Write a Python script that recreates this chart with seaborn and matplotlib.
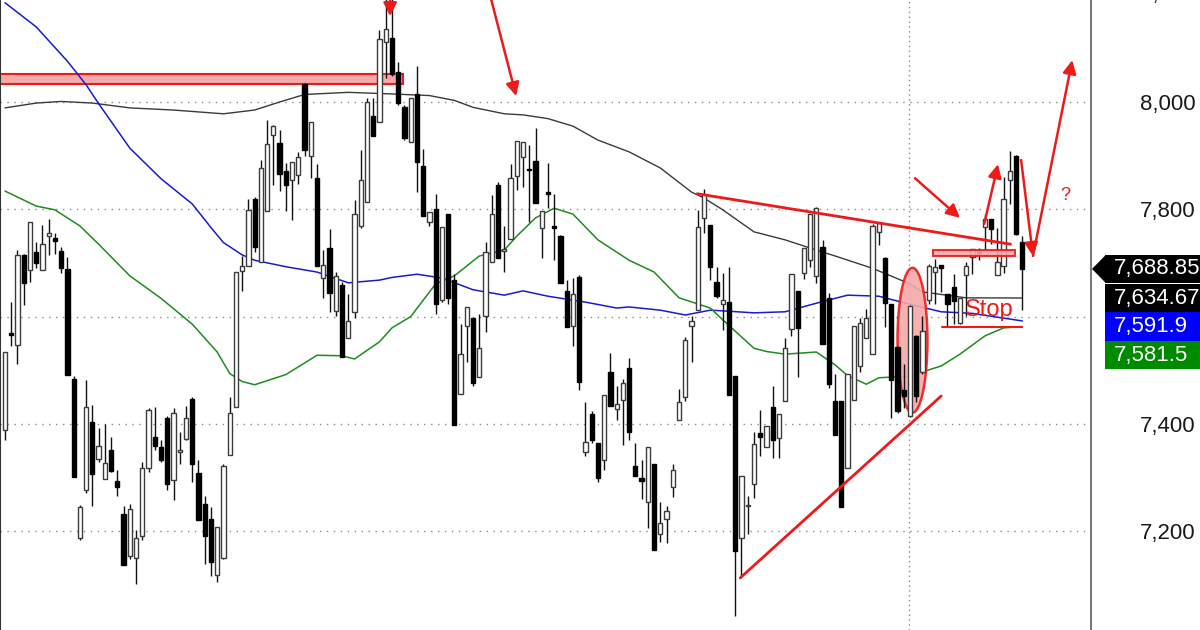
import numpy as np
import matplotlib
matplotlib.use("Agg")
import matplotlib.pyplot as plt
import seaborn as sns
from matplotlib.patches import Ellipse, Rectangle, Polygon
from matplotlib.ticker import FuncFormatter

# ---------------- data ----------------
opens = [7389, 7570, 7547, 7714, 7687, 7720, 7687, 7750, 7746, 7722,
         7689, 7483, 7187, 7277, 7404, 7334, 7298, 7351, 7293, 7232,
         7154, 7150, 7191, 7318, 7375, 7357, 7411, 7296, 7348, 7372,
         7447, 7308, 7251, 7222, 7119, 7150, 7342, 7431, 7685, 7694,
         7819, 7702, 7796, 7938, 7924, 7872, 7855, 7864, 8034, 7899,
         7858, 7672, 7728, 7610, 7659, 7560, 7609, 7769, 7814, 7974,
         7963, 8112, 8119, 8056, 7990, 7925, 8015, 7881, 7776, 7801,
         7631, 7791, 7668, 7456, 7582, 7597, 7488, 7601, 7702, 7846,
         7722, 7744, 7862, 7898, 7876, 7890, 7765, 7832, 7769, 7750,
         7647, 7582, 7673, 7348, 7418, 7364, 7333, 7497, 7428, 7445,
         7504, 7322, 7299, 7254, 7325, 7195, 7223, 7282, 7407, 7450,
         7582, 7612, 7784, 7771, 7664, 7623, 7627, 7489, 7188, 7247,
         7288, 7383, 7357, 7432, 7374, 7442, 7576, 7647, 7682, 7705,
         7676, 7729, 7635, 7442, 7442, 7318, 7445, 7508, 7560, 7530,
         7758, 7709, 7623, 7543, 7463, 7415, 7564, 7497, 7631, 7683,
         7697, 7642, 7655, 7588, 7677, 7711, 7723, 7767, 7782, 7677,
         7694, 7855, 7899, 7739]
highs = [7534, 7627, 7724, 7717, 7776, 7739, 7770, 7782, 7756, 7729,
         7711, 7489, 7249, 7482, 7436, 7392, 7400, 7375, 7314, 7247,
         7250, 7202, 7329, 7430, 7431, 7370, 7415, 7430, 7385, 7433,
         7450, 7333, 7266, 7245, 7207, 7325, 7450, 7683, 7713, 7819,
         7822, 7892, 7966, 7957, 7948, 7886, 7888, 7907, 8036, 7963,
         7884, 7724, 7764, 7683, 7665, 7642, 7817, 7911, 8007, 8007,
         8134, 8195, 8195, 8075, 7995, 8007, 8067, 7913, 7795, 7829,
         7767, 7791, 7679, 7586, 7618, 7597, 7605, 7739, 7826, 7851,
         7769, 7884, 7928, 7925, 7920, 7951, 7797, 7886, 7828, 7752,
         7668, 7672, 7677, 7441, 7425, 7364, 7454, 7532, 7471, 7483,
         7523, 7364, 7333, 7357, 7325, 7254, 7247, 7325, 7465, 7562,
         7601, 7799, 7838, 7771, 7692, 7682, 7692, 7489, 7303, 7266,
         7385, 7426, 7396, 7471, 7418, 7560, 7679, 7647, 7728, 7791,
         7804, 7743, 7644, 7493, 7442, 7493, 7582, 7597, 7615, 7772,
         7774, 7711, 7623, 7545, 7512, 7622, 7566, 7601, 7698, 7707,
         7697, 7642, 7679, 7635, 7702, 7726, 7728, 7791, 7782, 7765,
         7861, 7908, 7901, 7750]
lows = [7370, 7545, 7512, 7622, 7665, 7691, 7687, 7714, 7716, 7681,
        7491, 7301, 7184, 7272, 7247, 7329, 7298, 7310, 7266, 7137,
        7148, 7102, 7184, 7310, 7351, 7329, 7277, 7258, 7325, 7370,
        7292, 7221, 7139, 7116, 7105, 7148, 7342, 7431, 7647, 7694,
        7720, 7702, 7796, 7846, 7834, 7796, 7780, 7847, 7899, 7858,
        7694, 7635, 7609, 7601, 7525, 7560, 7597, 7765, 7814, 7937,
        7963, 8045, 8048, 7995, 7930, 7925, 7832, 7788, 7769, 7605,
        7627, 7623, 7398, 7456, 7515, 7471, 7488, 7571, 7702, 7709,
        7683, 7744, 7836, 7842, 7776, 7811, 7709, 7802, 7706, 7663,
        7580, 7545, 7463, 7340, 7365, 7292, 7314, 7433, 7407, 7361,
        7370, 7303, 7260, 7206, 7165, 7180, 7178, 7263, 7407, 7442,
        7515, 7612, 7756, 7668, 7635, 7575, 7453, 7042, 7115, 7195,
        7262, 7340, 7357, 7336, 7336, 7442, 7564, 7488, 7670, 7692,
        7663, 7549, 7467, 7380, 7245, 7318, 7445, 7497, 7560, 7530,
        7734, 7580, 7411, 7420, 7430, 7413, 7440, 7493, 7623, 7623,
        7646, 7582, 7586, 7586, 7601, 7679, 7705, 7722, 7735, 7677,
        7682, 7810, 7752, 7612]
closes = [7534, 7566, 7714, 7663, 7776, 7700, 7735, 7756, 7740, 7691,
          7491, 7301, 7245, 7432, 7307, 7359, 7327, 7312, 7282, 7137,
          7242, 7187, 7318, 7426, 7359, 7333, 7288, 7420, 7351, 7411,
          7325, 7221, 7191, 7143, 7207, 7321, 7420, 7683, 7694, 7799,
          7729, 7877, 7922, 7955, 7866, 7845, 7888, 7897, 7911, 7963,
          7694, 7697, 7644, 7676, 7525, 7591, 7791, 7855, 8000, 7937,
          8118, 8136, 8052, 7998, 7933, 8007, 7888, 7788, 7795, 7623,
          7767, 7635, 7398, 7530, 7618, 7476, 7541, 7720, 7791, 7709,
          7726, 7858, 7928, 7925, 7874, 7811, 7797, 7829, 7765, 7663,
          7580, 7642, 7478, 7366, 7370, 7299, 7454, 7433, 7437, 7476,
          7385, 7303, 7293, 7357, 7165, 7215, 7237, 7314, 7441, 7556,
          7592, 7767, 7829, 7692, 7638, 7631, 7453, 7163, 7303, 7249,
          7362, 7376, 7396, 7370, 7418, 7541, 7679, 7579, 7728, 7791,
          7802, 7549, 7474, 7380, 7245, 7493, 7582, 7588, 7597, 7769,
          7774, 7625, 7482, 7424, 7452, 7620, 7452, 7573, 7694, 7692,
          7691, 7623, 7629, 7635, 7694, 7726, 7719, 7782, 7763, 7702,
          7819, 7871, 7754, 7688.85]

# moving averages, read at selected candle positions
ma_black_idx = [0, 5, 9, 14, 20, 27, 35, 40, 44, 48, 55, 62, 68, 72, 75, 80,
                83, 87, 91, 95, 100, 105, 110, 112, 115, 120, 125, 130, 133,
                139, 145, 147, 154, 163]
ma_black_val = [7989, 7998, 8001, 7998, 7989, 7985, 7978, 7985, 8000, 8014,
                8018, 8015, 8012, 8003, 7990, 7978, 7976, 7969, 7955, 7929,
                7907, 7877, 7832, 7821, 7799, 7758, 7743, 7724, 7713, 7690,
                7661, 7646, 7635, 7634.67]
ma_blue_idx = [0, 5, 10, 13, 15, 20, 25, 30, 33, 35, 38, 40, 45, 50, 55, 60,
               62, 66, 70, 75, 80, 83, 87, 93, 98, 100, 105, 109, 113, 116,
               120, 125, 130, 135, 140, 145, 150, 155, 163]
ma_blue_val = [8185, 8140, 8076, 8032, 7997, 7914, 7857, 7810, 7766, 7738,
               7715, 7705, 7693, 7683, 7663, 7668, 7673, 7679, 7672, 7650,
               7640, 7648, 7638, 7627, 7616, 7618, 7612, 7603, 7612, 7610,
               7607, 7609, 7625, 7640, 7638, 7623, 7609, 7606, 7591.9]
ma_green_idx = [0, 5, 8, 12, 15, 20, 25, 30, 34, 36, 38, 40, 45, 50, 54, 56,
                60, 62, 65, 69, 72, 76, 80, 82, 85, 88, 91, 95, 100, 104, 108,
                113, 115, 120, 122, 125, 130, 133, 135, 138, 140, 145, 147,
                150, 153, 157, 160, 163]
ma_green_val = [7834, 7806, 7799, 7769, 7735, 7676, 7634, 7586, 7534, 7494,
                7479, 7473, 7492, 7528, 7527, 7521, 7553, 7579, 7600, 7661,
                7676, 7713, 7724, 7750, 7784, 7802, 7791, 7743, 7705, 7683,
                7635, 7616, 7594, 7541, 7535, 7530, 7534, 7510, 7490, 7474,
                7486, 7489, 7497, 7508, 7530, 7564, 7579, 7581.5]

y_ticks = [7200, 7400, 7600, 7800, 8000]
hidden_tick_labels = [7600]          # covered by the price boxes in the reference
top_label = 8200
price_labels = ["7,688.85", "7,634.67", "7,591.9", "7,581.5"]
price_values = [7688.85, 7634.67, 7591.9, 7581.5]
price_colors = ["#000000", "#000000", "#0000ff", "#008a00"]

# hand-drawn annotations (candle index, price)
band_x = [-0.8, 63.8]
band_y = [8034, 8052]
small_rect_x = [148.7, 161.9]
small_rect_y = [7713, 7724]
ellipse_center = [145.4, 7556]
ellipse_size = [4.8, 270]
trend_down = [[110.9, 161.1], [7829, 7735]]
trend_up = [[117.8, 150.0], [7113, 7452]]
stop_line = [[150.2, 163.0], [7580, 7580]]
stop_text = [157.7, 7612]
question_pos = [169.9, 7825]
arrows = [
    [(61.7, 8240), (61.7, 8160)],
    [(77.7, 8200), (81.9, 8011)],
    [(145.8, 7858), (153.0, 7784)],
    [(156.9, 7773), (159.1, 7884)],
    [(162.8, 7892), (164.7, 7713)],
    [(164.7, 7713), (171.0, 8078)],
]
vgrid_idx = [144.9]

# ---------------- drawing ----------------
sns.set_style("white")
plt.rcParams['font.family'] = ['Liberation Sans', 'DejaVu Sans']

W, H = 1200, 630
fig = plt.figure(figsize=(W / 100, H / 100), dpi=100)
ax = fig.add_axes([0, 0, 1091 / W, 1])

n = len(opens)
idx = np.arange(n)
o = np.array(opens, float); c = np.array(closes, float)
hi = np.array(highs, float); lo = np.array(lows, float)
up = c >= o

ax.set_xlim(-0.8, 174.0)
ax.set_ylim(7015.9, 8190.1)

# grid
for t in y_ticks:
    ax.axhline(t, color="#8a8a8a", lw=1, linestyle=(0, (1, 4)), zorder=0)
for v in vgrid_idx:
    ax.axvline(v, color="#8a8a8a", lw=1, linestyle=(0, (1, 2.5)), zorder=0)

red = "#ee1a1a"
pink = "#f5a9a9"

# resistance band
ax.add_patch(Rectangle((band_x[0], band_y[0]), band_x[1] - band_x[0], band_y[1] - band_y[0],
                       facecolor=pink, edgecolor=red, lw=1.5, zorder=1))

# moving averages
sns.lineplot(x=ma_black_idx, y=ma_black_val, ax=ax, color="#3a3a3a", lw=1, zorder=2)
sns.lineplot(x=ma_blue_idx, y=ma_blue_val, ax=ax, color="#1a1ad0", lw=1.1, zorder=2)
sns.lineplot(x=ma_green_idx, y=ma_green_val, ax=ax, color="#1e8c1e", lw=1.1, zorder=2)

# ellipse (behind candles)
ax.add_patch(Ellipse(ellipse_center, ellipse_size[0], ellipse_size[1],
                     facecolor=pink, edgecolor=red, lw=1.8, alpha=0.9, zorder=2.5))

# candles
ax.vlines(idx, lo, hi, color="#111111", lw=1, zorder=3)
body_bot = np.minimum(o, c)
body_h = np.maximum(np.abs(c - o), 1.2)
ax.bar(idx[up], body_h[up], bottom=body_bot[up], width=0.68,
       facecolor="white", edgecolor="#3c3c3c", lw=1, zorder=4)
ax.bar(idx[~up], body_h[~up], bottom=body_bot[~up], width=0.68,
       facecolor="black", edgecolor="black", lw=1, zorder=4)

# annotations
ax.plot(trend_down[0], trend_down[1], color=red, lw=2, zorder=5)
ax.plot(trend_up[0], trend_up[1], color=red, lw=2, zorder=5)
ax.plot(stop_line[0], stop_line[1], color=red, lw=1.5, zorder=5)
ax.add_patch(Rectangle((small_rect_x[0], small_rect_y[0]), small_rect_x[1] - small_rect_x[0],
                       small_rect_y[1] - small_rect_y[0], facecolor=pink, edgecolor=red,
                       lw=1.5, alpha=0.9, zorder=5))
ax.text(stop_text[0], stop_text[1], "Stop", color=red, fontsize=17, ha="center",
        va="center", zorder=6)
ax.text(question_pos[0], question_pos[1], "?", color=red, fontsize=13, ha="center",
        va="center", zorder=6)
for (x0, y0), (x1, y1) in arrows:
    ax.annotate("", xy=(x1, y1), xytext=(x0, y0), annotation_clip=False,
                arrowprops=dict(arrowstyle="-|>", color=red, lw=1.8,
                                mutation_scale=20, shrinkA=0, shrinkB=0), zorder=6)

# axes styling
for s in ["top", "bottom"]:
    ax.spines[s].set_visible(False)
ax.spines["left"].set_color("#333333")
ax.spines["left"].set_linewidth(1.5)
ax.spines["right"].set_color("#7a7a7a")
ax.spines["right"].set_linewidth(1.5)
ax.set_xticks([])
ax.yaxis.tick_right()
ax.set_yticks(y_ticks)
ax.yaxis.set_major_formatter(FuncFormatter(
    lambda v, p: "" if v in hidden_tick_labels else f"{v:,.0f}"))
ax.tick_params(axis="y", length=0, pad=35, labelsize=16, labelcolor="#1a1a1a")
ax.set_xlabel(""); ax.set_ylabel("")

# overlay for right-side price labels
lab = fig.add_axes([0, 0, 1, 1], facecolor="none")
lab.set_xlim(0, W); lab.set_ylim(0, H); lab.axis("off")


def ypix(v):
    return ax.transData.transform((0, v))[1]


lab.text(1140, ypix(top_label), f"{top_label:,}", fontsize=16, color="#1a1a1a",
         ha="left", va="center", clip_on=False)

box_h = 28.5
prev = None
for i, (txt, val, col) in enumerate(zip(price_labels, price_values, price_colors)):
    yc = ypix(val)
    if prev is not None and yc > prev - box_h:
        yc = prev - box_h
    prev = yc
    lab.add_patch(Rectangle((1105, yc - box_h / 2), W - 1105, box_h, facecolor=col,
                            edgecolor="none", zorder=5))
    if i == 0:
        lab.add_patch(Polygon([(1092, yc), (1106, yc + box_h / 2), (1106, yc - box_h / 2)],
                              closed=True, facecolor=col, edgecolor="none", zorder=5))
    lab.text(1114, yc, txt, color="white", fontsize=16, ha="left", va="center", zorder=6)

fig.savefig("out.png", dpi=100)
